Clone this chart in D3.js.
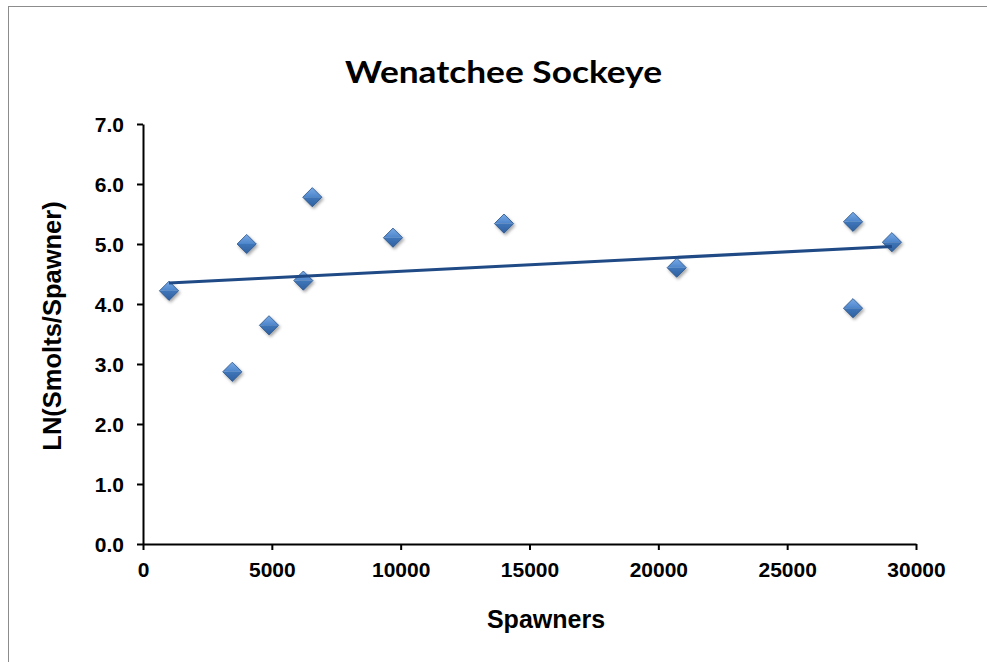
<!DOCTYPE html>
<html>
<head>
<meta charset="utf-8">
<script src="https://cdn.jsdelivr.net/npm/d3@7/dist/d3.min.js"></script>
<style>
  html, body { margin: 0; padding: 0; background: #fff; }
  svg { display: block; }
</style>
</head>
<body>
<svg id="chart" width="987" height="662"></svg>
<script>
// ---- Data ----
const titleText = "Wenatchee Sockeye";
const xTitle = "Spawners";
const yTitle = "LN(Smolts/Spawner)";
const spawners = [1009, 3466, 4024, 4890, 6222, 6571, 9702, 14010, 20712, 27555, 27555, 29065];
const lnSmoltsPerSpawner = [4.22, 2.87, 5.00, 3.645, 4.39, 5.78, 5.105, 5.34, 4.605, 5.37, 3.93, 5.03];
const xTicks = [0, 5000, 10000, 15000, 20000, 25000, 30000];
const yTicks = [0, 1, 2, 3, 4, 5, 6, 7];

// ---- Layout ----
const W = 987, H = 662;
const plot = { left: 143, right: 916, top: 124, bottom: 544 };
const svg = d3.select("#chart");

const x = d3.scaleLinear().domain([0, 30000]).range([plot.left, plot.right]);
const y = d3.scaleLinear().domain([0, 7]).range([plot.bottom, plot.top]);

// defs
const defs = svg.append("defs");
const gTop = defs.append("linearGradient").attr("id", "gTop").attr("x1", 0).attr("y1", 0).attr("x2", 0).attr("y2", 1);
gTop.append("stop").attr("offset", "0%").attr("stop-color", "#78aae6");
gTop.append("stop").attr("offset", "100%").attr("stop-color", "#4d85cb");
const gBot = defs.append("linearGradient").attr("id", "gBot").attr("x1", 0).attr("y1", 0).attr("x2", 0).attr("y2", 1);
gBot.append("stop").attr("offset", "0%").attr("stop-color", "#3f76ba");
gBot.append("stop").attr("offset", "100%").attr("stop-color", "#2f609f");
const f = defs.append("filter").attr("id", "shadow").attr("x", "-50%").attr("y", "-50%").attr("width", "200%").attr("height", "200%");
f.append("feDropShadow").attr("dx", 1.5).attr("dy", 2).attr("stdDeviation", 1.6)
  .attr("flood-color", "#000").attr("flood-opacity", 0.35);

// background + outer border
svg.append("rect").attr("x", 0).attr("y", 0).attr("width", W).attr("height", H).attr("fill", "#fff");
svg.append("rect").attr("x", 8.5).attr("y", 6.5).attr("width", W + 20).attr("height", H + 20)
  .attr("fill", "none").attr("stroke", "#8c8c8c").attr("stroke-width", 1);

// title
svg.append("text")
  .attr("x", 503.5).attr("y", 83)
  .attr("text-anchor", "middle")
  .attr("font-family", "Lato, 'Open Sans', sans-serif")
  .attr("font-weight", "bold")
  .attr("font-size", 31)
  .attr("textLength", 317).attr("lengthAdjust", "spacingAndGlyphs")
  .attr("fill", "#000")
  .text(titleText);

const fontFam = "'Liberation Sans', Arial, sans-serif";

// axes
const yAxis = d3.axisLeft(y).tickValues(yTicks).tickFormat(d3.format(".1f"))
  .tickSize(6).tickSizeOuter(0).tickPadding(13);
const xAxis = d3.axisBottom(x).tickValues(xTicks).tickFormat(d3.format("d"))
  .tickSize(6).tickSizeOuter(0).tickPadding(12);

const gy = svg.append("g").attr("transform", `translate(${plot.left},0)`).call(yAxis);
const gx = svg.append("g").attr("transform", `translate(0,${plot.bottom})`).call(xAxis);

[gx, gy].forEach(g => {
  g.select(".domain").attr("stroke", "#000").attr("stroke-width", 2);
  g.selectAll(".tick line").attr("stroke", "#000").attr("stroke-width", 2);
  g.selectAll(".tick text")
    .attr("font-family", fontFam).attr("font-weight", "bold")
    .attr("font-size", 21).attr("fill", "#000");
});
gy.selectAll(".tick text").attr("dy", "0.37em");

// axis titles
svg.append("text")
  .attr("x", 546).attr("y", 628)
  .attr("text-anchor", "middle")
  .attr("font-family", fontFam).attr("font-weight", "bold").attr("font-size", 25)
  .attr("fill", "#000")
  .text(xTitle);

svg.append("text")
  .attr("transform", "translate(61,326) rotate(-90)")
  .attr("text-anchor", "middle")
  .attr("font-family", fontFam).attr("font-weight", "bold").attr("font-size", 25.5)
  .attr("fill", "#000")
  .text(yTitle);

// points data
const pts = spawners.map((s, i) => ({ x: s, y: lnSmoltsPerSpawner[i] }));

// linear trend line (least squares, as in the original spreadsheet)
const mx = d3.mean(pts, d => d.x), my = d3.mean(pts, d => d.y);
const sxy = d3.sum(pts, d => (d.x - mx) * (d.y - my));
const sxx = d3.sum(pts, d => (d.x - mx) * (d.x - mx));
const slope = sxy / sxx, intercept = my - slope * mx;
const [x0, x1] = d3.extent(spawners);

// markers
const r = 9.6;
const mg = svg.append("g").attr("filter", "url(#shadow)");
const marks = mg.selectAll("g.m").data(pts).enter().append("g")
  .attr("class", "m")
  .attr("transform", d => `translate(${x(d.x)},${y(d.y)})`);
marks.append("path").attr("d", `M${-r},0L0,${-r}L${r},0Z`).attr("fill", "url(#gTop)");
marks.append("path").attr("d", `M${-r},0L0,${r}L${r},0Z`).attr("fill", "url(#gBot)");
marks.append("path").attr("d", `M${-r},0L0,${-r}L${r},0L0,${r}Z`)
  .attr("fill", "none").attr("stroke", "#2a5288").attr("stroke-width", 0.8);

// trend line on top
svg.append("line")
  .attr("x1", x(x0)).attr("y1", y(intercept + slope * x0))
  .attr("x2", x(x1)).attr("y2", y(intercept + slope * x1))
  .attr("stroke", "#1f4a85").attr("stroke-width", 3);
</script>
</body>
</html>
